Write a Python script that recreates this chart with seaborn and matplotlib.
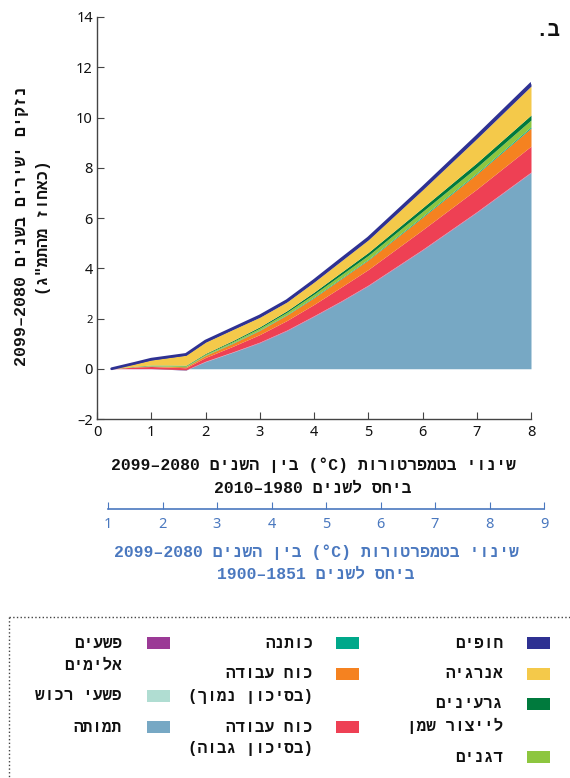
import re

import matplotlib
matplotlib.use("Agg")
import matplotlib.pyplot as plt
import numpy as np
import pandas as pd
import seaborn as sns
from matplotlib.lines import Line2D
from matplotlib.patches import Rectangle

# =============================================================================
# Data
# =============================================================================
temp_change = [0.27, 0.7, 1.0, 1.64, 2.0, 2.5, 3.0, 3.5, 4.0, 4.5, 5.0, 6.0, 7.0, 8.0]

mortality = [0, 0, 0, -0.05, 0.28, 0.65, 1.03, 1.51, 2.08, 2.67, 3.3, 4.72, 6.22, 7.8]
violent_crime = [0, 0.01, 0.01, 0.01, 0.01, 0.01, 0.02, 0.02, 0.02, 0.02, 0.02, 0.02, 0.02, 0.02]
property_crime = [0, 0, 0, 0, 0.01, 0.01, 0.01, 0.01, 0.01, 0.01, 0.01, 0.01, 0.01, 0.01]
labor_high = [0, 0.06, 0.08, 0.08, 0.15, 0.22, 0.3, 0.38, 0.45, 0.55, 0.62, 0.78, 0.9, 1.03]
labor_low = [0, 0.01, 0.02, 0.04, 0.08, 0.12, 0.17, 0.22, 0.27, 0.33, 0.38, 0.5, 0.6, 0.72]
cotton = [0, 0, 0.01, 0.01, 0.01, 0.02, 0.02, 0.02, 0.03, 0.03, 0.03, 0.04, 0.04, 0.05]
cereals = [0, 0.01, 0.02, 0.03, 0.04, 0.05, 0.07, 0.09, 0.11, 0.13, 0.15, 0.19, 0.23, 0.27]
oil_crops = [0, 0.01, 0.01, 0.02, 0.03, 0.04, 0.05, 0.06, 0.08, 0.1, 0.12, 0.15, 0.18, 0.2]
energy = [0, 0.10, 0.20, 0.40, 0.45, 0.44, 0.38, 0.35, 0.40, 0.45, 0.5, 0.71, 0.96, 1.15]
coasts = [0, 0.02, 0.03, 0.03, 0.04, 0.04, 0.05, 0.05, 0.06, 0.07, 0.07, 0.08, 0.09, 0.1]

series_values = [mortality, violent_crime, property_crime, labor_high, labor_low,
                 cotton, cereals, oil_crops, energy, coasts]
series_labels = ["תמותה", "פשעים\nאלימים", "פשעי רכוש", "כוח עבודה\n(בסיכון גבוה)",
                 "כוח עבודה\n(בסיכון נמוך)", "כותנה", "דגנים", "גרעינים\nלייצור שמן",
                 "אנרגיה", "חופים"]
series_colors = ["#77a8c4", "#9b3a96", "#b0ddd2", "#ee4054", "#f58220",
                 "#00a88a", "#8dc63f", "#007a3d", "#f4c94a", "#2e3192"]

y_ticks = [-2, 0, 2, 4, 6, 8, 10, 12, 14]
x_ticks = [0, 1, 2, 3, 4, 5, 6, 7, 8]
x2_ticks = [1, 2, 3, 4, 5, 6, 7, 8, 9]

BLUE = "#4a78bf"
INK = "#111111"
W, H = 570, 778
HEB = ["Liberation Mono", "DejaVu Sans"]
NUM = ["Noto Sans", "DejaVu Sans"]
HEB_WEIGHT = "bold"


def rtl(s: str) -> str:
    """Visual order for Hebrew text (matplotlib draws left to right)."""
    tokens = re.findall(r"[0-9A-Za-z°\-–]+|.", s)
    out = "".join(reversed(tokens))
    return out.translate(str.maketrans("()", ")("))


def fx(px):
    return px / W


def fy(px):
    return 1 - px / H


def heb_text(x, y, s, **kw):
    kw.setdefault("ha", "center")
    kw.setdefault("va", "center")
    kw.setdefault("color", INK)
    return fig.text(fx(x), fy(y), rtl(s), family=HEB, fontweight=HEB_WEIGHT, **kw)


# =============================================================================
# Figure
# =============================================================================
sns.set_style("ticks")
plt.rcParams["font.family"] = HEB

fig = plt.figure(figsize=(W / 100, H / 100), dpi=100)
ax = fig.add_axes([fx(97), fy(419), fx(531 - 97), (419 - 17) / H])

ax.stackplot(temp_change, *series_values, colors=series_colors, linewidth=0)
total = pd.DataFrame({"x": temp_change, "total": np.sum(series_values, axis=0)})
sns.lineplot(data=total, x="x", y="total", color=series_colors[-1], linewidth=2.0, ax=ax)

ax.set_xlim(0, 8)
ax.set_ylim(-2, 14)
ax.set_xticks(x_ticks)
ax.set_yticks(y_ticks)
ax.set_xticklabels([str(v) for v in x_ticks])
ax.set_yticklabels([str(v).replace("-", "–") for v in y_ticks])
ax.set_xlabel("")
ax.set_ylabel("")
sns.despine(ax=ax)
for sp in ("left", "bottom"):
    ax.spines[sp].set_color("#444444")
    ax.spines[sp].set_linewidth(1.0)
ax.tick_params(direction="in", length=5, color="#444444", labelsize=10.5,
               labelcolor=INK)
ax.tick_params(axis="x", pad=4)
ax.tick_params(axis="y", pad=3)
for lab in ax.get_xticklabels() + ax.get_yticklabels():
    lab.set_family(NUM)
for lab, v in zip(ax.get_yticklabels(), y_ticks):
    if v == 2:
        lab.set_fontsize(8)

# panel letter
heb_text(548, 30, "ב.", fontsize=15)

# y label
heb_text(22, 226, "נזקים ישירים בשנים 2099–2080", rotation=90, fontsize=12)
heb_text(44, 228, '(כאחוז מהתמ"ג)', rotation=90, fontsize=11.5)

# x label
heb_text(313, 465, "שינוי בטמפרטורות (°C) בין השנים 2099–2080", fontsize=11.8)
heb_text(313, 488, "ביחס לשנים 2010–1980", fontsize=11.8)

# secondary (pre-industrial baseline) axis: a thin axes whose bottom spine is the line
ax2 = fig.add_axes([fx(108), fy(509), fx(544 - 108), 20 / H])
ax2.set_xlim(1, 9)
ax2.set_xticks(x2_ticks)
ax2.set_xticklabels([])
ax2.set_yticks([])
ax2.patch.set_visible(False)
for sp in ("left", "right", "top"):
    ax2.spines[sp].set_visible(False)
ax2.spines["bottom"].set_color(BLUE)
ax2.spines["bottom"].set_linewidth(1.2)
ax2.tick_params(axis="x", direction="in", length=5, color=BLUE)
for v in x2_ticks:
    ax2.text(v, -0.75, str(v), transform=ax2.get_xaxis_transform(), ha="center",
             va="center", fontsize=10.5, color=BLUE, family=NUM, clip_on=False)

heb_text(316, 552, "שינוי בטמפרטורות (°C) בין השנים 2099–2080", fontsize=11.8, color=BLUE)
heb_text(316, 574, "ביחס לשנים 1900–1851", fontsize=11.8, color=BLUE)

# =============================================================================
# Legend (three right-to-left columns inside a dotted frame)
# =============================================================================
fig.add_artist(Line2D([fx(9), 1], [fy(617), fy(617)], color="#444444",
                      linestyle=":", linewidth=1.0, transform=fig.transFigure))
fig.add_artist(Line2D([fx(9), fx(9)], [fy(617), 0], color="#444444",
                      linestyle=":", linewidth=1.0, transform=fig.transFigure))

# (swatch left, text right edge, row centre) for each series, in series order
legend_pos = [
    (147, 122, 727), (147, 122, 643), (147, 122, 696),
    (336, 313, 727), (336, 313, 674), (336, 313, 643),
    (527, 503, 757), (527, 503, 704), (527, 503, 674), (527, 503, 643),
]
for label, color, (sx, tx, ty) in zip(series_labels, series_colors, legend_pos):
    fig.add_artist(Rectangle((fx(sx), fy(ty + 6)), fx(23), 12 / H, color=color,
                             transform=fig.transFigure, linewidth=0))
    for i, line in enumerate(label.split("\n")):
        heb_text(tx, ty + i * 22, line, fontsize=11.5, ha="right")

fig.savefig("out.png", dpi=100)
plt.close(fig)
